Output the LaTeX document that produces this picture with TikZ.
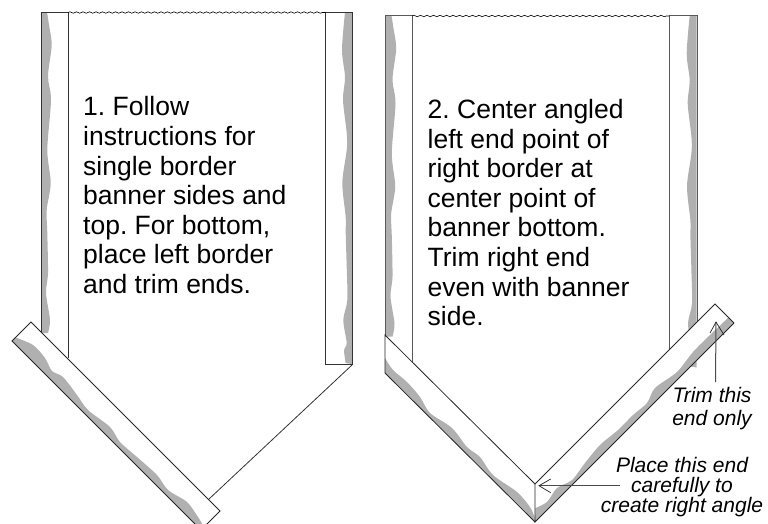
\documentclass[tikz,border=0pt]{standalone}
\usepackage{fontspec}
\setmainfont{Liberation Sans}
\usetikzlibrary{decorations.pathmorphing}
\definecolor{fray}{gray}{0.69}
\definecolor{lead}{gray}{0.3}
\tikzset{
  outline/.style={draw=black!85,line width=.8pt,line join=miter},
  edge/.style={draw=black!80,line width=1pt},
  grayside/.style={fill=fray,draw=none},
  wavy/.style={draw=black,line width=.6pt,decorate,decoration={snake,amplitude=.7pt,segment length=6.5pt}},
  maintext/.style={align=left,anchor=north west,inner sep=0pt,font=\fontsize{26.5}{29.6}\selectfont\frenchspacing},
  note/.style={align=center,inner sep=0pt,font=\fontsize{21}{19.7}\selectfont\itshape},
  noteb/.style={align=center,inner sep=0pt,font=\fontsize{21}{23}\selectfont\itshape},
  leader/.style={draw=lead,line width=1pt},
  wing/.style={draw=black!85,line width=.7pt}
}
\newcommand{\leftfray}{\fill[grayside] (41,12) -- plot[smooth] coordinates {(47,12) (49,25) (51.7,45) (48,76) (51,100) (47.3,150) (50.7,183) (46.7,210) (47.3,233) (48,273) (46,293) (50,320) (48,333)} -- (41,333) -- cycle;}
\newcommand{\rightfray}{\fill[grayside] (352,12) -- plot[smooth] coordinates {(345,12) (342,50) (345,77) (343,100) (346.7,133) (346.7,150) (342.3,183) (345.7,217) (345.7,233) (346.7,267) (347.3,300) (343.3,320) (346.7,343) (344,350) (345.7,363)} -- (352,364) -- cycle;}
\begin{document}
\begin{tikzpicture}[x=1pt,y=-1pt]
\useasboundingbox (0,0) rectangle (768,523);
\clip (0,0) rectangle (768,523);
% ---------- left banner ----------
\leftfray
\rightfray
\draw[edge] (41,333) -- (41,12) -- (68,12) -- (68,358);
\draw[edge] (352,365) -- (352,12) -- (325.5,12) -- (325.5,364) -- (352,364);
\draw[wavy] (68,12.5) -- (325.5,12.5);
\draw[edge,line width=.8pt] (352,365) -- (209,499);
% left angled strip
\fill[white] (31,322) -- (12,341) -- (201,530) -- (220,511) -- cycle;
\fill[grayside] (12,341) -- plot[smooth] coordinates {(15,337.3) (33,345) (45,358) (52,371) (63,377) (77,395) (88,410) (110,427) (120,442) (137,457) (157,475) (168,490) (187,502) (198,517) (204,527)} -- (201,530) -- cycle;
\draw[outline] (31,322) -- (12,341) -- (201,530) -- (220,511) -- cycle;
\node[maintext] (t1) at (83,96.5) {1. Follow\\instructions for\\single border\\banner sides and\\top. For bottom,\\place left border\\and trim ends.};
% ---------- right banner ----------
\begin{scope}[shift={(344.5,3.5)}]
\leftfray
\end{scope}
\begin{scope}[shift={(344.7,3.5)}]
\rightfray
\end{scope}
\draw[edge,draw=black!65] (385,335) -- (385,15.5) -- (412,15.5) -- (412,362);
\draw[edge,draw=black!65] (697,322) -- (697,15.5) -- (669.5,15.5) -- (669.5,349);
\draw[wavy] (412,16) -- (669.5,16);
% left strip
\fill[white] (385,335) -- (385,373) -- (535,522) -- (535,484) -- cycle;
\fill[grayside] (385,373) -- plot[smooth] coordinates {(385,358) (393,370) (407,382) (420,397) (430,413) (452,428) (467,447) (480,457) (493,475) (517,492) (530,507) (534.5,517)} -- (535,522) -- cycle;
\draw[outline] (385,373) -- (385,335) -- (535,484);
\draw[outline] (385,373) -- (535,522);
% right strip
\fill[white] (535,484) -- (715,304) -- (734,323) -- (535,522) -- cycle;
\fill[grayside] (535,522) -- plot[smooth] coordinates {(535.5,508) (547,502) (557,488) (572,480) (585,463) (600,445) (618,430) (633,415) (647,403) (655,388) (677,372) (693,352) (710,335) (728.5,317.5)} -- (734,323) -- cycle;
\draw[outline] (734,323) -- (715,304) -- (535,484) -- (535,522) -- (734,323);
\node[maintext] (t2) at (427.5,99) {2. Center angled\\left end point of\\right border at\\center point of\\banner bottom.\\Trim right end\\even with banner\\side.};
% ---------- notes ----------
\node[noteb] (n1) at (712,408.5) {Trim this\\end only};
\node[note] (n2) at (682,487) {Place this end\\carefully to\\create right angle};
\coordinate (a1) at (716,322);
\coordinate (b1) at (715.5,382);
\coordinate (a2) at (539,485.7);
\coordinate (b2) at (620,485.7);
\draw[leader] (b1) -- (a1);
\draw[leader] (b2) -- (a2);
\draw[wing] (710,333) -- (a1) -- (724,335);
\draw[wing] (550.7,479) -- (a2) -- (550.7,492.7);
\end{tikzpicture}
\end{document}
